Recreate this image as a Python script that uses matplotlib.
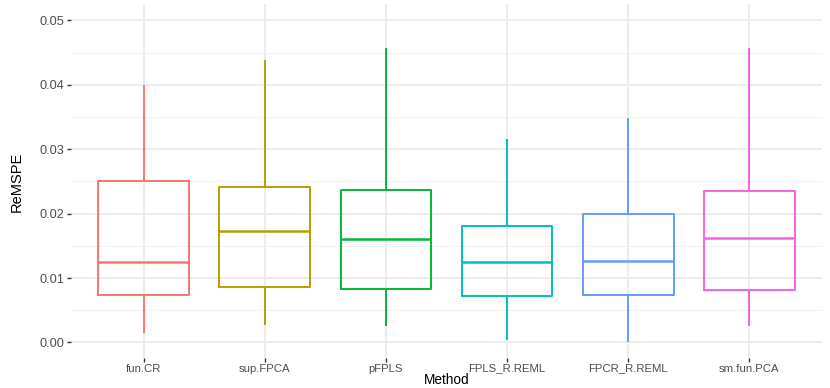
import matplotlib
matplotlib.use("Agg")
import matplotlib.pyplot as plt
from matplotlib.ticker import MultipleLocator

methods = ["fun.CR", "sup.FPCA", "pFPLS", "FPLS_R.REML", "FPCR_R.REML", "sm.fun.PCA"]
whislo = [0.00156, 0.00285, 0.00264, 0.00051, 0.00025, 0.00264]
q1 = [0.00740, 0.00865, 0.00834, 0.00715, 0.00731, 0.00818]
med = [0.01244, 0.01731, 0.01607, 0.01254, 0.01260, 0.01627]
q3 = [0.02504, 0.02411, 0.02364, 0.01814, 0.01995, 0.02358]
whishi = [0.03975, 0.04364, 0.04557, 0.03146, 0.03468, 0.04557]
colors = ["#F8766D", "#B79F00", "#00BA38", "#00BFC4", "#619CFF", "#F564E3"]

plt.rcParams['font.family'] = ['Liberation Sans', 'DejaVu Sans']

fig = plt.figure(figsize=(8.3, 3.88), dpi=100)
ax = fig.add_axes([71/830, 1-358/388, (822-71)/830, (358-4)/388])

positions = list(range(1, len(methods)+1))
for i in range(len(methods)):
    s = dict(med=med[i], q1=q1[i], q3=q3[i], whislo=whislo[i], whishi=whishi[i], fliers=[])
    c = colors[i]
    ax.bxp([s], positions=[positions[i]], widths=0.75, showcaps=False, showfliers=False,
           boxprops=dict(color=c, linewidth=1.4),
           whiskerprops=dict(color=c, linewidth=1.4),
           medianprops=dict(color=c, linewidth=1.8),
           manage_ticks=False, zorder=3)

ax.set_xlim(0.4, 6.6)
ax.set_xticks(positions)
ax.set_xticklabels(methods)
ax.yaxis.set_minor_locator(MultipleLocator(0.005))
yt = [0.0, 0.01, 0.02, 0.03, 0.04, 0.05]
ax.set_yticks(yt)
ax.set_yticklabels([f"{v:.2f}" for v in yt])
ax.set_ylim(-0.00241, 0.05256)

ax.grid(True, which='major', color='#EBEBEB', linewidth=1.3, zorder=0)
ax.grid(True, which='minor', axis='y', color='#F2F2F2', linewidth=0.8, zorder=0)
ax.set_axisbelow(True)
for sp in ax.spines.values():
    sp.set_visible(False)
ax.tick_params(axis='both', which='major', length=3, width=1, color='#333333',
               labelcolor='#4D4D4D', pad=2)
ax.tick_params(axis='x', labelsize=8.2, pad=1.0)
ax.tick_params(axis='y', labelsize=9.2)
ax.tick_params(axis='y', which='minor', length=0)

ax.set_xlabel("Method", fontsize=9.8, color='black', va='center')
ax.xaxis.set_label_coords(0.5, (358-379.5)/354)
ax.set_ylabel("ReMSPE", fontsize=10.5, color='black', va='center')
ax.yaxis.set_label_coords((17-71)/751, (358-182)/354)

fig.savefig("out.png", dpi=100)
